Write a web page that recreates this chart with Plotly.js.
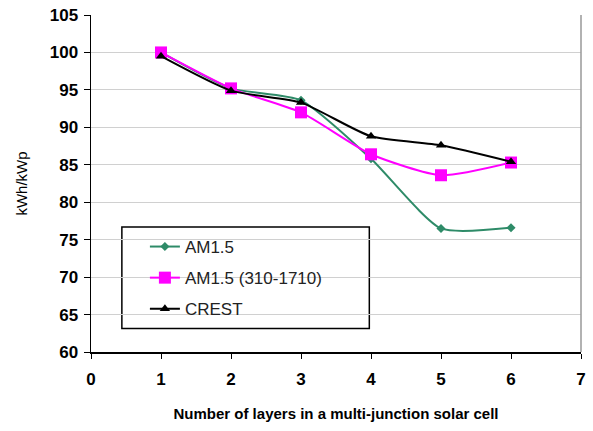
<!DOCTYPE html>
<html><head><meta charset="utf-8">
<script src="https://cdn.plot.ly/plotly-3.0.1.min.js"></script>
<style>html,body{margin:0;padding:0;background:#fff}#c{width:593px;height:431px}</style>
</head><body><div id="c"></div>
<script>
const layers = [1, 2, 3, 4, 5, 6];
const am15 = [100, 95.2, 93.6, 85.8, 76.5, 76.6];
const am15Range = [100, 95.2, 92.0, 86.4, 83.6, 85.3];
const crest = [99.5, 94.9, 93.3, 88.8, 87.6, 85.4];
const names = ["AM1.5", "AM1.5 (310-1710)", "CREST"];
const xTicks = [0, 1, 2, 3, 4, 5, 6, 7];
const yTicks = [60, 65, 70, 75, 80, 85, 90, 95, 100, 105];

const FONT = "Liberation Sans, Arial, sans-serif";
const traces = [
  {x: layers, y: am15, name: names[0], legendgroup: "a", mode: "lines+markers",
   line: {color: "#2e8b68", width: 2, shape: "spline", smoothing: 0.6},
   marker: {symbol: "diamond", size: 7, color: "#2e8b68"}},
  {x: layers, y: am15Range, name: names[1], legendgroup: "b", mode: "lines+markers",
   line: {color: "#ff00ff", width: 2, shape: "spline", smoothing: 0.6},
   marker: {symbol: "square", size: 12, color: "#ff00ff"}},
  {x: layers, y: crest, name: names[2], legendgroup: "c", mode: "lines+markers",
   line: {color: "#000000", width: 2, shape: "spline", smoothing: 0.6},
   marker: {symbol: "triangle-up", size: 9, color: "#000000"}}
];

const layout = {
  width: 593, height: 431,
  margin: {l: 91, r: 12, t: 15, b: 79},
  paper_bgcolor: "#fff", plot_bgcolor: "#fff",
  showlegend: true,
  legend: {x: 0.11, y: 0.365, xanchor: "left", yanchor: "top",
    bgcolor: "rgba(0,0,0,0)", borderwidth: 0,
    font: {family: FONT, size: 17, color: "#222"},
    tracegroupgap: 6, itemwidth: 30},
  xaxis: {range: [0, 7], tickvals: xTicks, ticktext: xTicks.map(String),
    showgrid: false, zeroline: false, showline: true, linecolor: "#000", linewidth: 1.5,
    ticks: "outside", ticklen: 5, tickcolor: "#000", ticklabelstandoff: 6,
    tickfont: {family: FONT, size: 17, color: "#000", weight: "bold"},
    title: {text: "Number of layers in a multi-junction solar cell", standoff: 20,
      font: {family: FONT, size: 15, color: "#000", weight: "bold"}}},
  yaxis: {range: [60, 105], tickvals: yTicks, ticktext: yTicks.map(String),
    showgrid: true, gridcolor: "#d0d0d0", gridwidth: 1, zeroline: false,
    showline: true, linecolor: "#000", linewidth: 1.5,
    ticks: "outside", ticklen: 6, tickcolor: "#000", ticklabelstandoff: 2,
    tickfont: {family: FONT, size: 17, color: "#000", weight: "bold"},
    title: {text: "kWh/kWp", standoff: 18,
      font: {family: FONT, size: 15, color: "#000"}}},
  shapes: [
    {type: "line", xref: "paper", yref: "paper", x0: 1, x1: 1, y0: 0, y1: 1,
     line: {color: "#999", width: 1.5}},
    {type: "rect", xref: "paper", yref: "paper", x0: 0.063, x1: 0.568, y0: 0.07, y1: 0.371,
     line: {color: "#000", width: 1.5}, fillcolor: "rgba(255,255,255,1)", layer: "below"}
  ]
};
Plotly.newPlot("c", traces, layout, {displayModeBar: false, staticPlot: true});
</script></body></html>
